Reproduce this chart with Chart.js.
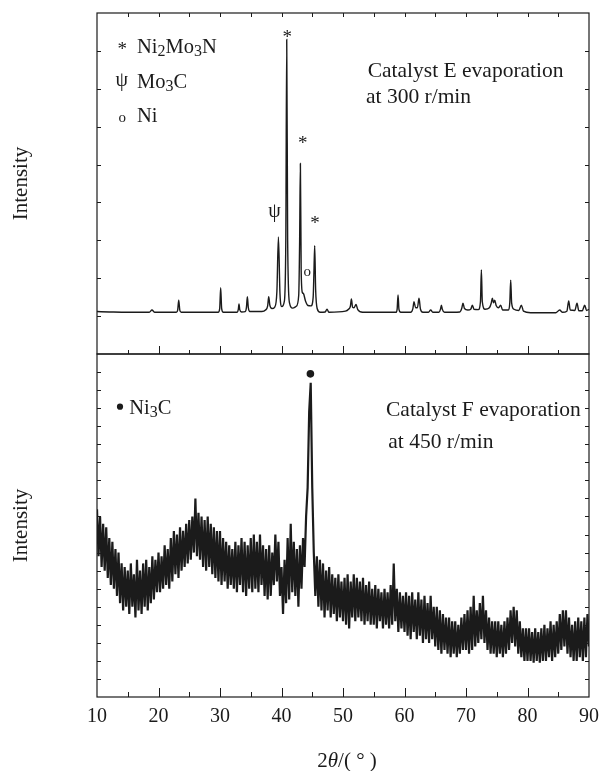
<!DOCTYPE html>
<html>
<head>
<meta charset="utf-8">
<title>XRD patterns of catalysts E and F</title>
<script src="https://cdn.jsdelivr.net/npm/chart.js@4.4.1/dist/chart.umd.min.js"></script>
<style>
  html, body { margin: 0; padding: 0; background: #ffffff; }
  #wrap { position: relative; width: 601px; height: 771px; }
  #wrap canvas { position: absolute; left: 0; top: 0; }
</style>
</head>
<body>
<div id="wrap">
  <canvas id="panelE" width="601" height="771"></canvas>
  <canvas id="panelF" width="601" height="771"></canvas>
</div>
<script>
// ---- Catalyst E (300 r/min): diffraction angle 2θ (°) and intensity (a.u.)
const angleE = [
  10.0, 12.0, 15.0, 18.5, 18.94, 19.4, 22.9, 23.12, 23.29, 23.46, 23.7,
  29.7, 29.95, 30.11, 30.27, 30.55, 32.8, 32.97, 33.09, 33.21, 33.5,
  34.1, 34.3, 34.45, 34.6, 34.85, 36.8, 37.4, 37.75, 37.92, 38.1, 38.45,
  38.9, 39.25, 39.5, 39.75, 40.05, 40.45, 40.7, 40.85, 41.0, 41.3, 41.8,
  42.4, 42.8, 42.95, 43.07, 43.2, 43.4, 43.55, 43.9, 44.3, 44.8,
  45.15, 45.28, 45.4, 45.55, 45.8, 46.3, 47.1, 47.4, 47.7, 50.4, 50.9,
  51.2, 51.37, 51.55, 51.8, 52.12, 52.4, 53.2, 58.6, 58.8, 58.95, 59.1, 59.4,
  61.0, 61.35, 61.55, 61.8, 62.1, 62.36, 62.6, 63.0, 63.9, 64.26, 64.6,
  65.6, 65.85, 66.0, 66.15, 66.5, 69.0, 69.3, 69.51, 69.75, 70.3, 70.8,
  71.04, 71.3, 72.0, 72.35, 72.5, 72.65, 73.1, 73.8, 74.1, 74.29, 74.48,
  74.67, 74.9, 75.3, 75.64, 75.95, 76.9, 77.12, 77.27, 77.42, 77.8, 78.6,
  79.0, 79.35, 80.5, 84.6, 85.23, 85.7, 86.4, 86.7, 86.95, 87.7, 88.05,
  88.35, 88.9, 89.3, 89.6, 90.0
];
const intensityE = [
  11.2, 11.1, 11.0, 11.0, 11.6, 11.0, 11.0, 11.6, 14.2, 11.6, 11.0,
  11.0, 12.0, 17.5, 12.0, 11.0, 11.0, 11.7, 13.2, 11.7, 11.1,
  11.2, 12.3, 15.1, 12.3, 11.2, 11.2, 11.6, 12.7, 15.1, 12.9, 12.0,
  12.4, 16.5, 30.9, 16.0, 12.5, 13.8, 30.0, 83.0, 30.0, 13.5, 12.1,
  12.6, 15.5, 30.0, 50.3, 22.0, 16.2, 16.0, 14.0, 12.8, 12.7,
  15.0, 22.0, 28.6, 17.0, 12.0, 11.0, 11.1, 11.8, 11.0, 11.3, 11.8,
  12.6, 14.5, 12.4, 12.2, 13.1, 11.7, 11.0, 11.0, 11.8, 15.6, 11.8, 11.0,
  11.0, 11.9, 13.8, 12.2, 12.2, 14.7, 11.8, 11.0, 11.0, 11.6, 11.0,
  11.0, 11.8, 12.9, 11.8, 11.0, 11.1, 12.0, 13.4, 12.0, 11.6, 11.9,
  12.9, 11.8, 11.7, 13.8, 22.2, 13.8, 11.8, 12.2, 13.4, 14.7, 13.5,
  14.2, 12.8, 12.2, 12.9, 11.6, 11.6, 13.5, 19.5, 13.5, 11.8, 11.5,
  12.9, 11.3, 10.9, 10.9, 11.6, 11.0, 11.3, 14.0, 11.6, 11.5, 13.4,
  11.4, 11.4, 12.9, 11.5, 11.8
];

// ---- Catalyst F (450 r/min): step scan from 10° in 0.25° steps
const scanStartF = 10;
const scanStepF = 0.25;
const intensityF = [
  52, 39, 50, 36, 48, 35, 47, 33, 44, 31, 43, 30, 41, 28, 40, 26, 37, 24, 36, 25,
  35, 23, 37, 25, 34, 22, 38, 24, 35, 23, 37, 25, 38, 24, 36, 26, 39, 27, 38, 29,
  40, 29, 39, 30, 42, 31, 41, 30, 44, 32, 46, 34, 45, 33, 47, 35, 46, 36, 48, 37,
  49, 38, 50, 40, 55, 39, 51, 38, 50, 36, 49, 35, 50, 36, 48, 34, 47, 33, 46, 32,
  46, 31, 44, 32, 43, 30, 42, 31, 41, 30, 43, 29, 42, 31, 44, 29, 43, 28, 42, 30,
  44, 29, 45, 30, 43, 29, 45, 31, 42, 28, 41, 27, 42, 28, 40, 31, 45, 32, 43, 28,
  36, 23, 38, 26, 44, 27, 48, 29, 43, 28, 41, 25, 42, 30, 44, 36, 50, 58, 79, 87,
  58, 40, 28, 39, 25, 38, 24, 37, 22, 35, 24, 36, 22, 34, 23, 33, 21, 34, 22, 32,
  21, 33, 20, 34, 19, 32, 22, 34, 21, 33, 22, 32, 21, 33, 20, 31, 21, 32, 20, 30,
  20, 31, 19, 30, 21, 29, 19, 30, 20, 29, 19, 31, 20, 37, 21, 30, 18, 29, 19, 28,
  18, 29, 17, 28, 16, 29, 18, 27, 16, 29, 17, 27, 15, 28, 16, 26, 15, 28, 16, 25,
  14, 25, 13, 24, 12, 23, 13, 22, 12, 22, 11, 21, 12, 21, 11, 20, 12, 22, 13, 23,
  13, 24, 12, 25, 13, 28, 14, 24, 15, 26, 16, 28, 15, 24, 13, 22, 12, 21, 12, 21,
  11, 21, 12, 20, 11, 21, 12, 22, 13, 24, 15, 25, 14, 24, 12, 21, 11, 19, 10, 19,
  10, 19, 10, 18, 9.5, 19, 10, 18, 9.5, 19, 10, 20, 10, 19, 11, 21, 10, 20, 11, 21,
  12, 23, 13, 24, 14, 24, 12, 22, 11, 20, 10, 21, 10, 22, 11, 21, 10, 22, 11, 23,
  14
];

// ---- axis ticks
const angleTickLabels = [10, 20, 30, 40, 50, 60, 70, 80, 90];

// ---- phase markers on the E pattern
const markerGlyphsE = ['*', '*', 'ψ', '*', 'o'];
const markerAnglesE = [40.89, 43.40, 38.89, 45.40, 44.15];
const markerLevelsE = [84.7, 56.5, 37.3, 35.6, 21.6];
const legendGlyphsE = ['*', 'ψ', 'o'];
const legendLabelsE = ['Ni_2Mo_3N', 'Mo_3C', 'Ni'];
const captionE = ['Catalyst E evaporation', 'at 300 r/min'];

// ---- phase markers on the F pattern
const markerAnglesF = [44.70];
const markerLevelsF = [89.5];
const legendLabelsF = ['Ni_3C'];
const captionF = ['Catalyst F evaporation', 'at 450 r/min'];

const INK = '#1b1b1b';
const SERIF = '"Liberation Serif", "Times New Roman", Times, serif';
const glyphSize = { '*': 19, 'ψ': 20, 'o': 15 };

// draw a single glyph centred on (cx, cy) using its ink box
function glyphAt(ctx, ch, cx, cy, size) {
  ctx.font = size + 'px ' + SERIF;
  ctx.textAlign = 'left';
  ctx.textBaseline = 'alphabetic';
  const m = ctx.measureText(ch);
  const dx = (m.actualBoundingBoxRight - m.actualBoundingBoxLeft) / 2;
  const dy = (m.actualBoundingBoxAscent - m.actualBoundingBoxDescent) / 2;
  ctx.fillText(ch, cx - dx, cy + dy);
}

// text with "_d" subscripts, left aligned at baseline y
function richText(ctx, str, x, y, size) {
  const parts = [];
  for (let i = 0; i < str.length; i++) {
    if (str[i] === '_') { parts.push({ t: str[i + 1], sub: true }); i++; }
    else parts.push({ t: str[i], sub: false });
  }
  ctx.textAlign = 'left';
  ctx.textBaseline = 'alphabetic';
  let px = x;
  parts.forEach(p => {
    const s = p.sub ? size * 0.78 : size;
    ctx.font = s + 'px ' + SERIF;
    ctx.fillText(p.t, px, p.sub ? y + 3 : y);
    px += ctx.measureText(p.t).width;
  });
}

// closed frame with inward-pointing tick marks
const framePlugin = {
  id: 'frame',
  afterDraw(chart, args, o) {
    const { ctx, chartArea: a } = chart;
    const xs = chart.scales.x, ys = chart.scales.y;
    ctx.save();
    ctx.strokeStyle = INK;
    ctx.lineWidth = 1.2;
    ctx.strokeRect(a.left, a.top, a.right - a.left, a.bottom - a.top);
    ctx.lineWidth = 1;
    ctx.beginPath();
    xs.ticks.forEach(t => {
      if (t.value <= xs.min || t.value >= xs.max) return;
      const px = Math.round(xs.getPixelForValue(t.value)) + 0.5;
      const major = t.value % 10 === 0;
      const len = major ? o.major : o.minor;
      ctx.moveTo(px, a.bottom); ctx.lineTo(px, a.bottom - len);
      if (o.topLen) { ctx.moveTo(px, a.top); ctx.lineTo(px, a.top + o.topLen); }
    });
    ys.ticks.forEach(t => {
      if (t.value <= ys.min || t.value >= ys.max) return;
      const py = Math.round(ys.getPixelForValue(t.value)) + 0.5;
      ctx.moveTo(a.left, py); ctx.lineTo(a.left + o.yLen, py);
      ctx.moveTo(a.right, py); ctx.lineTo(a.right - o.yLen, py);
    });
    ctx.stroke();
    ctx.restore();
  }
};

const annotE = {
  id: 'annotE',
  afterDatasetsDraw(chart) {
    const { ctx, chartArea: a, scales: { x, y } } = chart;
    ctx.save();
    ctx.fillStyle = INK;
    markerGlyphsE.forEach((g, i) => {
      glyphAt(ctx, g, x.getPixelForValue(markerAnglesE[i]), y.getPixelForValue(markerLevelsE[i]), glyphSize[g]);
    });
    legendGlyphsE.forEach((g, i) => {
      glyphAt(ctx, g, a.left + 25, a.top + 32 + i * 36.6, glyphSize[g]);
      richText(ctx, legendLabelsE[i], a.left + 40, a.top + 40.3 + i * 34.5, 20.5);
    });
    richText(ctx, captionE[0], 367.7, 77.3, 21.5);
    richText(ctx, captionE[1], 366, 103.3, 21.5);
    ctx.restore();
  }
};

const annotF = {
  id: 'annotF',
  afterDatasetsDraw(chart) {
    const { ctx, chartArea: a, scales: { x, y } } = chart;
    ctx.save();
    ctx.fillStyle = INK;
    markerAnglesF.forEach((ang, i) => {
      ctx.beginPath();
      ctx.arc(x.getPixelForValue(ang), y.getPixelForValue(markerLevelsF[i]), 3.8, 0, Math.PI * 2);
      ctx.fill();
    });
    ctx.beginPath();
    ctx.arc(a.left + 23, a.top + 52.7, 3.1, 0, Math.PI * 2);
    ctx.fill();
    richText(ctx, legendLabelsF[0], a.left + 32.3, a.top + 60, 20.5);
    richText(ctx, captionF[0], 386, 416, 21.5);
    richText(ctx, captionF[1], 388.3, 448.3, 21.5);

    // x-axis title: 2θ/( ° ) with an italic θ
    const parts = [
      { t: '2', f: '21px ' + SERIF },
      { t: 'θ', f: 'italic 21px ' + SERIF },
      { t: '/( ° )', f: '21px ' + SERIF }
    ];
    let w = 0;
    parts.forEach(p => { ctx.font = p.f; p.w = ctx.measureText(p.t).width; w += p.w; });
    let px = (a.left + a.right) / 2 - w / 2 + 4;
    ctx.textAlign = 'left';
    ctx.textBaseline = 'alphabetic';
    parts.forEach(p => { ctx.font = p.f; ctx.fillText(p.t, px, 767); px += p.w; });
    ctx.restore();
  }
};

function yScale(max, step) {
  return {
    type: 'linear', min: 0, max: max,
    ticks: { display: false, stepSize: step },
    grid: { display: false }, border: { display: false },
    title: { display: true, text: 'Intensity', color: INK, font: { family: SERIF, size: 21 }, padding: { top: 9, bottom: 0 } },
    afterFit: s => { s.width = 97; }
  };
}

// x scale with its box size pinned and no extra edge padding for the end labels
function xScale(height, ticks) {
  return {
    type: 'linear', min: 10, max: 90,
    ticks: ticks,
    grid: { display: false, drawTicks: false }, border: { display: false },
    afterFit: s => { s.height = height; s.paddingLeft = 0; s.paddingRight = 0; }
  };
}

const common = {
  responsive: false,
  animation: false,
  devicePixelRatio: 1,
  plugins: { legend: { display: false }, tooltip: { enabled: false } },
  elements: { point: { radius: 0 } }
};

new Chart(document.getElementById('panelE'), {
  type: 'line',
  data: {
    datasets: [{
      data: angleE.map((a, i) => ({ x: a, y: intensityE[i] })),
      borderColor: INK, borderWidth: 1.4, fill: false,
      cubicInterpolationMode: 'monotone'
    }]
  },
  options: Object.assign({}, common, {
    layout: { padding: { left: 0, top: 13, right: 12, bottom: 417 } },
    scales: {
      x: xScale(0, { display: false, stepSize: 5 }),
      y: yScale(90, 10)
    },
    plugins: Object.assign({}, common.plugins, { frame: { major: 8, minor: 4, topLen: 4, yLen: 4 } })
  }),
  plugins: [framePlugin, annotE]
});

new Chart(document.getElementById('panelF'), {
  type: 'line',
  data: {
    datasets: [{
      data: intensityF.map((v, i) => ({ x: scanStartF + i * scanStepF, y: v })),
      borderColor: INK, borderWidth: 2.2, borderJoinStyle: 'miter', fill: false, tension: 0
    }]
  },
  options: Object.assign({}, common, {
    layout: { padding: { left: 0, top: 354, right: 12, bottom: 34 } },
    scales: {
      x: xScale(40, {
        stepSize: 5, autoSkip: false, maxRotation: 0, padding: 8,
        color: INK, font: { family: SERIF, size: 20 },
        callback: v => angleTickLabels.includes(v) ? String(v) : ''
      }),
      y: yScale(95, 5)
    },
    plugins: Object.assign({}, common.plugins, { frame: { major: 9, minor: 5, topLen: 0, yLen: 4 } })
  }),
  plugins: [framePlugin, annotF]
});
</script>
</body>
</html>
